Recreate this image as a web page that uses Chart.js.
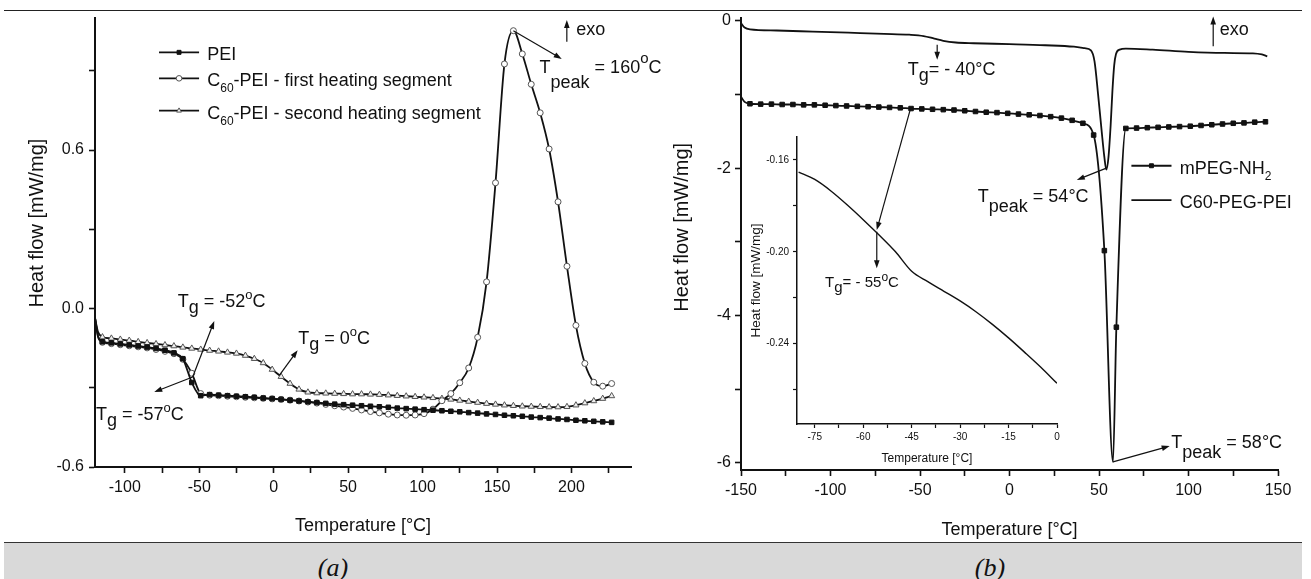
<!DOCTYPE html>
<html><head><meta charset="utf-8">
<script src="https://cdn.jsdelivr.net/npm/chart.js@4.4.1/dist/chart.umd.min.js"></script>
<style>
html,body{margin:0;padding:0;background:#fff}
body{width:1311px;height:579px;position:relative;overflow:hidden}
canvas{position:absolute}
#ca{left:0;top:0}
#cb{left:660px;top:0}
#ci{left:730px;top:125px}
.rule{position:absolute;left:4px;width:1298px;height:0;border-top:1.5px solid #222}
#strip{position:absolute;left:4px;top:542px;width:1298px;height:37px;background:#d9d9d9;border-top:1.5px solid #333}
.cap{position:absolute;top:553px;height:26px;line-height:26px;font:italic 26px "Liberation Serif","Times New Roman",serif;color:#111;transform:translateX(-50%)}
</style></head>
<body>
<div class="rule" style="top:10px"></div>
<canvas id="ca" width="680" height="543"></canvas>
<canvas id="cb" width="651" height="543"></canvas>
<canvas id="ci" width="340" height="350"></canvas>
<div id="strip"></div>
<div class="cap" style="left:333px">(a)</div>
<div class="cap" style="left:990px">(b)</div>
<script>
// ---------- DATA: panel (a) ----------
const aX = [-120,-118,-115,-109,-103,-97,-91,-85,-79,-73,-67,-61,-55,-49,-43,-37,-31,-25,-19,-13,-7,-1,5,11,17,23,29,35,41,47,53,59,65,71,77,83,89,95,101,107,113,119,125,131,137,143,149,155,161,167,173,179,185,191,197,203,209,215,221,227];
const peiY = [-0.035,-0.105,-0.126,-0.130,-0.134,-0.138,-0.142,-0.146,-0.151,-0.158,-0.168,-0.190,-0.280,-0.330,-0.326,-0.328,-0.330,-0.332,-0.334,-0.336,-0.339,-0.341,-0.344,-0.347,-0.350,-0.353,-0.356,-0.359,-0.362,-0.364,-0.366,-0.368,-0.370,-0.372,-0.374,-0.377,-0.379,-0.381,-0.383,-0.385,-0.387,-0.389,-0.391,-0.394,-0.396,-0.399,-0.401,-0.404,-0.406,-0.408,-0.411,-0.413,-0.415,-0.418,-0.420,-0.423,-0.425,-0.427,-0.429,-0.431];
const firstY = [-0.035,-0.105,-0.128,-0.133,-0.137,-0.141,-0.145,-0.149,-0.155,-0.162,-0.171,-0.192,-0.245,-0.322,-0.328,-0.330,-0.332,-0.334,-0.336,-0.338,-0.340,-0.342,-0.344,-0.347,-0.350,-0.354,-0.358,-0.363,-0.368,-0.373,-0.378,-0.384,-0.390,-0.395,-0.400,-0.403,-0.404,-0.403,-0.398,-0.381,-0.349,-0.322,-0.281,-0.225,-0.109,0.101,0.476,0.926,1.052,0.964,0.849,0.741,0.604,0.404,0.160,-0.064,-0.208,-0.279,-0.294,-0.284];
const secondY = [-0.035,-0.088,-0.108,-0.113,-0.117,-0.121,-0.126,-0.130,-0.134,-0.138,-0.142,-0.147,-0.151,-0.155,-0.159,-0.162,-0.166,-0.170,-0.178,-0.190,-0.206,-0.231,-0.258,-0.284,-0.306,-0.317,-0.320,-0.321,-0.322,-0.323,-0.324,-0.324,-0.325,-0.326,-0.328,-0.330,-0.332,-0.334,-0.336,-0.338,-0.341,-0.344,-0.348,-0.352,-0.356,-0.360,-0.363,-0.366,-0.368,-0.370,-0.371,-0.372,-0.373,-0.373,-0.372,-0.366,-0.358,-0.350,-0.341,-0.331];
const seriesA = ['PEI','C60-PEI - first heating segment','C60-PEI - second heating segment'];

// ---------- DATA: panel (b) ----------
const mX = [-150,-148,-145,-139,-133,-127,-121,-115,-109,-103,-97,-91,-85,-79,-73,-67,-61,-55,-49,-43,-37,-31,-25,-19,-13,-7,-1,5,11,17,23,29,35,41,47,53,57.8,59.7,65,71,77,83,89,95,101,107,113,119,125,131,137,143];
const mY = [-1.03,-1.10,-1.125,-1.13,-1.13,-1.135,-1.135,-1.14,-1.14,-1.145,-1.15,-1.155,-1.16,-1.165,-1.17,-1.175,-1.18,-1.19,-1.195,-1.20,-1.205,-1.21,-1.22,-1.23,-1.24,-1.245,-1.255,-1.265,-1.275,-1.285,-1.30,-1.32,-1.35,-1.39,-1.55,-3.12,-5.99,-4.16,-1.46,-1.455,-1.45,-1.445,-1.44,-1.435,-1.43,-1.42,-1.41,-1.40,-1.39,-1.385,-1.375,-1.37];
const cX = [-150,-148,-145,-130,-110,-90,-70,-56,-48,-42,-37,-30,-20,0,20,36,42,45.5,47.5,49.5,51.5,53,54.1,55.3,56.5,57.5,58.5,59.5,61.5,65,80,100,120,136,141,144];
const cY = [-0.03,-0.09,-0.115,-0.13,-0.145,-0.16,-0.175,-0.187,-0.205,-0.24,-0.27,-0.293,-0.303,-0.315,-0.33,-0.35,-0.37,-0.40,-0.55,-1.0,-1.5,-1.85,-2.02,-1.85,-1.42,-0.95,-0.6,-0.45,-0.39,-0.375,-0.39,-0.42,-0.435,-0.44,-0.455,-0.48];
const seriesB = ['mPEG-NH2','C60-PEG-PEI'];

// ---------- DATA: inset ----------
const iX = [-80,-75,-70,-65,-60,-55,-50,-45,-40,-35,-30,-25,-20,-15,-10,-5,0];
const iY = [-0.1653,-0.1685,-0.1735,-0.1795,-0.1860,-0.1928,-0.2000,-0.2085,-0.2130,-0.2172,-0.2214,-0.2262,-0.2316,-0.2375,-0.2438,-0.2503,-0.2573];

// ---------- helpers ----------
const F = '"Liberation Sans", Arial, Helvetica, sans-serif';
Chart.defaults.font.family = F;
Chart.defaults.color = '#111';
const INK = '#111';
const pts = (xs, ys) => xs.map((x, i) => ({x, y: ys[i]}));
const isMult = (v, s) => Math.abs(v / s - Math.round(v / s)) < 1e-6;
const fmt = (v, d) => (Math.abs(v) < 1e-9 ? 0 : v).toFixed(d);

function axis(o) {
  return {
    type: 'linear', min: o.min, max: o.max,
    ticks: {stepSize: o.step, autoSkip: false, maxRotation: 0, minRotation: 0,
      padding: o.tickPad, font: {size: o.tickFont}, color: INK,
      callback: v => isMult(v, o.major) ? fmt(v, o.dec) : ''},
    afterBuildTicks: s => {
      s.min = o.min; s.max = o.max;
      const out = [];
      const k0 = Math.ceil(o.min / o.step - 1e-6), k1 = Math.floor(o.max / o.step + 1e-6);
      for (let k = k0; k <= k1; k++) out.push({value: +(k * o.step).toFixed(6)});
      s.ticks = out;
    },
    afterFit: s => { s[o.fitKey] = o.fit; },
    grid: {display: true, drawOnChartArea: false, drawTicks: true, tickLength: o.tickLen,
      tickWidth: o.bw * 0.8, tickColor: INK, color: INK},
    border: {display: true, color: INK, width: o.bw},
    title: {display: true, text: o.title, font: {size: o.titleSize}, color: INK, padding: o.titlePad}
  };
}

function drawRich(ctx, x, y, parts, size) {
  let cx = x;
  ctx.textAlign = 'left'; ctx.textBaseline = 'alphabetic'; ctx.fillStyle = INK;
  for (const p of parts) {
    ctx.font = (p.s || size) + 'px ' + F;
    ctx.fillText(p.t, cx, y + (p.dy || 0));
    cx += ctx.measureText(p.t).width;
  }
}
function drawArrow(ctx, x1, y1, x2, y2) {
  const h = 8, w = 2.8, a = Math.atan2(y2 - y1, x2 - x1);
  ctx.beginPath(); ctx.moveTo(x1, y1); ctx.lineTo(x2 - h * 0.6 * Math.cos(a), y2 - h * 0.6 * Math.sin(a)); ctx.stroke();
  ctx.beginPath(); ctx.moveTo(x2, y2);
  ctx.lineTo(x2 - h * Math.cos(a) + w * Math.sin(a), y2 - h * Math.sin(a) - w * Math.cos(a));
  ctx.lineTo(x2 - h * Math.cos(a) - w * Math.sin(a), y2 - h * Math.sin(a) + w * Math.cos(a));
  ctx.closePath(); ctx.fill();
}
function notesPlugin(cfg) {
  return {id: 'notes', afterDraw(chart) {
    const {ctx} = chart, sx = chart.scales.x, sy = chart.scales.y;
    const X = v => sx.getPixelForValue(v), Y = v => sy.getPixelForValue(v);
    ctx.save();
    ctx.strokeStyle = INK; ctx.fillStyle = INK; ctx.lineWidth = 1.2;
    (cfg.arrows || []).forEach(a => drawArrow(ctx, X(a[0]), Y(a[1]), X(a[2]), Y(a[3])));
    (cfg.notes || []).forEach(n => drawRich(ctx, X(n.x), Y(n.y), n.parts, n.size || 18));
    if (cfg.legend) {
      const L = cfg.legend;
      L.rows.forEach(r => {
        const ds = chart.data.datasets[r.ds];
        const yy = Y(r.y), x1 = X(L.x1), x2 = X(L.x2);
        ctx.strokeStyle = INK; ctx.lineWidth = 1.8;
        ctx.beginPath(); ctx.moveTo(x1, yy); ctx.lineTo(x2, yy); ctx.stroke();
        if (ds.pointStyle) {
          ctx.fillStyle = ds.pointBackgroundColor; ctx.strokeStyle = ds.pointBorderColor; ctx.lineWidth = 1;
          Chart.helpers.drawPoint(ctx, {pointStyle: ds.pointStyle, radius: 2.8, borderWidth: 1, rotation: 0}, (x1 + x2) / 2, yy);
        }
        drawRich(ctx, X(L.tx), yy + 8, r.parts, 18);
      });
    }
    if (cfg.extra) cfg.extra(chart, ctx, X, Y);
    ctx.restore();
  }};
}
const baseOpts = (pad) => ({
  responsive: false, devicePixelRatio: 1, animation: false, events: [],
  layout: {padding: pad},
  plugins: {legend: {display: false}, tooltip: {enabled: false}},
  elements: {line: {borderJoinStyle: 'round'}}
});

// ---------- inset chart ----------
window.insetChart = new Chart(document.getElementById('ci'), {
  type: 'line',
  data: {datasets: [{label: 'mPEG-NH2 (detail)', data: pts(iX, iY), borderColor: INK, borderWidth: 1.4,
    pointRadius: 0, cubicInterpolationMode: 'monotone'}]},
  options: Object.assign(baseOpts({left: 0, top: 12, right: 13, bottom: 0}), {
    scales: {
      x: axis({min: -80.5, max: 0, step: 7.5, major: 15, dec: 0, tickPad: 3, tickFont: 10, tickLen: 4, bw: 1.5,
        fitKey: 'height', fit: 51, title: 'Temperature [°C]', titleSize: 12, titlePad: {top: 0, bottom: 9}}),
      y: axis({min: -0.275, max: -0.15, step: 0.02, major: 0.04, dec: 2, tickPad: 4, tickFont: 10, tickLen: 4, bw: 1.5,
        fitKey: 'width', fit: 67, title: 'Heat flow [mW/mg]', titleSize: 13.5, titlePad: {top: 18, bottom: 0}})
    }
  }),
  plugins: [notesPlugin({
    arrows: [[-55.8, -0.1913, -55.8, -0.2072]],
    notes: [{x: -71.8, y: -0.2152, size: 15, parts: [{t: 'T'}, {t: 'g', dy: 5}, {t: '= - 55'}, {t: 'o', s: 12, dy: -6}, {t: 'C'}]}]
  })]
});

// ---------- panel (b) ----------
new Chart(document.getElementById('cb'), {
  type: 'line',
  data: {datasets: [
    {label: seriesB[0], data: pts(mX, mY), borderColor: INK, borderWidth: 1.8, cubicInterpolationMode: 'monotone',
     pointStyle: 'rect', pointBackgroundColor: INK, pointBorderColor: INK, pointBorderWidth: 1,
     pointRadius: c => (c.dataIndex < 2 || c.raw.y === Math.min(...mY)) ? 0 : 3.2},
    {label: seriesB[1], data: pts(cX, cY), borderColor: INK, borderWidth: 1.8, pointRadius: 0, cubicInterpolationMode: 'monotone'}
  ]},
  options: Object.assign(baseOpts({left: 0, top: 18, right: 33, bottom: 0}), {
    scales: {
      x: axis({min: -150, max: 150, step: 25, major: 50, dec: 0, tickPad: 5, tickFont: 16, tickLen: 6, bw: 2,
        fitKey: 'height', fit: 73, title: 'Temperature [°C]', titleSize: 18, titlePad: {top: 0, bottom: 2}}),
      y: axis({min: -6.1, max: 0.04, step: 1, major: 2, dec: 0, tickPad: 4, tickFont: 16, tickLen: 6, bw: 2,
        fitKey: 'width', fit: 81, title: '      Heat flow [mW/mg]', titleSize: 20, titlePad: {top: 10, bottom: 0}})
    }
  }),
  plugins: [notesPlugin({
    arrows: [[113.8, -0.345, 113.8, 0.06], [-40.4, -0.322, -40.4, -0.526], [54.1, -2.0, 37.6, -2.16], [57.8, -5.99, 89.5, -5.775]],
    notes: [
      {x: 117.4, y: -0.185, parts: [{t: 'exo'}]},
      {x: -56.9, y: -0.731, parts: [{t: 'T'}, {t: 'g', dy: 6.7}, {t: '= - 40°C'}]},
      {x: -17.7, y: -2.458, parts: [{t: 'T'}, {t: 'peak', dy: 10}, {t: ' = 54°C'}]},
      {x: 90.4, y: -5.798, parts: [{t: 'T'}, {t: 'peak', dy: 10}, {t: ' = 58°C'}]}
    ],
    legend: {x1: 68.1, x2: 90.5, tx: 95.1, rows: [
      {ds: 0, y: -1.967, parts: [{t: 'mPEG-NH'}, {t: '2', s: 12, dy: 6}]},
      {ds: 1, y: -2.435, parts: [{t: 'C60-PEG-PEI'}]}
    ]},
    extra: (chart, ctx, X, Y) => {
      const ic = window.insetChart; if (!ic) return;
      const dx = 730 - 660, dy = 125;
      ctx.strokeStyle = INK; ctx.fillStyle = INK; ctx.lineWidth = 1.2;
      drawArrow(ctx, X(-55.3), Y(-1.19), ic.scales.x.getPixelForValue(-55.8) + dx, ic.scales.y.getPixelForValue(-0.1905) + dy);
    }
  })]
});

// ---------- panel (a) ----------
new Chart(document.getElementById('ca'), {
  type: 'line',
  data: {datasets: [
    {label: seriesA[0], data: pts(aX, peiY), borderColor: INK, borderWidth: 1.8, cubicInterpolationMode: 'monotone',
     pointStyle: 'rect', pointBackgroundColor: INK, pointBorderColor: INK, pointBorderWidth: 1,
     pointRadius: c => c.dataIndex < 2 ? 0 : 3.2},
    {label: seriesA[1], data: pts(aX, firstY), borderColor: INK, borderWidth: 1.8, cubicInterpolationMode: 'monotone',
     pointStyle: 'circle', pointBackgroundColor: '#fff', pointBorderColor: '#555', pointBorderWidth: 1,
     pointRadius: c => c.dataIndex < 2 ? 0 : 3},
    {label: seriesA[2], data: pts(aX, secondY), borderColor: INK, borderWidth: 1.8, cubicInterpolationMode: 'monotone',
     pointStyle: 'triangle', pointBackgroundColor: '#eee', pointBorderColor: '#555', pointBorderWidth: 1,
     pointRadius: c => c.dataIndex < 2 ? 0 : 3.5}
  ]},
  options: Object.assign(baseOpts({left: 0, top: 18, right: 49, bottom: 0}), {
    scales: {
      x: axis({min: -120, max: 240, step: 25, major: 50, dec: 0, tickPad: 5, tickFont: 16, tickLen: 6, bw: 2,
        fitKey: 'height', fit: 76, title: 'Temperature [°C]', titleSize: 18, titlePad: {top: 0, bottom: 6}}),
      y: axis({min: -0.6, max: 1.1, step: 0.3, major: 0.6, dec: 1, tickPad: 5, tickFont: 16, tickLen: 6, bw: 2,
        fitKey: 'width', fit: 95, title: '       Heat flow [mW/mg]', titleSize: 20, titlePad: {top: 25, bottom: 0}})
    }
  }),
  plugins: [notesPlugin({
    arrows: [[196.9, 1.010, 196.9, 1.092], [161, 1.052, 193.5, 0.945], [-54.4, -0.259, -39.9, -0.047],
             [-54.4, -0.259, -80.2, -0.316], [3.8, -0.253, 16.1, -0.158]],
    notes: [
      {x: 203.2, y: 1.036, parts: [{t: 'exo'}]},
      {x: 178.6, y: 0.890, parts: [{t: 'T'}, {t: 'peak', dy: 15}, {t: ' = 160'}, {t: 'o', s: 15, dy: -10}, {t: 'C'}]},
      {x: -64.5, y: 0.006, parts: [{t: 'T'}, {t: 'g', dy: 6.5}, {t: ' = -52'}, {t: 'o', s: 13, dy: -8}, {t: 'C'}]},
      {x: -119.4, y: -0.421, parts: [{t: 'T'}, {t: 'g', dy: 6.5}, {t: ' = -57'}, {t: 'o', s: 13, dy: -8}, {t: 'C'}]},
      {x: 16.5, y: -0.133, parts: [{t: 'T'}, {t: 'g', dy: 6.5}, {t: ' = 0'}, {t: 'o', s: 13, dy: -8}, {t: 'C'}]}
    ],
    legend: {x1: -77, x2: -50.1, tx: -44.6, rows: [
      {ds: 0, y: 0.970, parts: [{t: 'PEI'}]},
      {ds: 1, y: 0.8716, parts: [{t: 'C'}, {t: '60', s: 12, dy: 6}, {t: '-PEI - first heating segment'}]},
      {ds: 2, y: 0.749, parts: [{t: 'C'}, {t: '60', s: 12, dy: 6}, {t: '-PEI - second heating segment'}]}
    ]}
  })]
});
</script>
</body></html>
